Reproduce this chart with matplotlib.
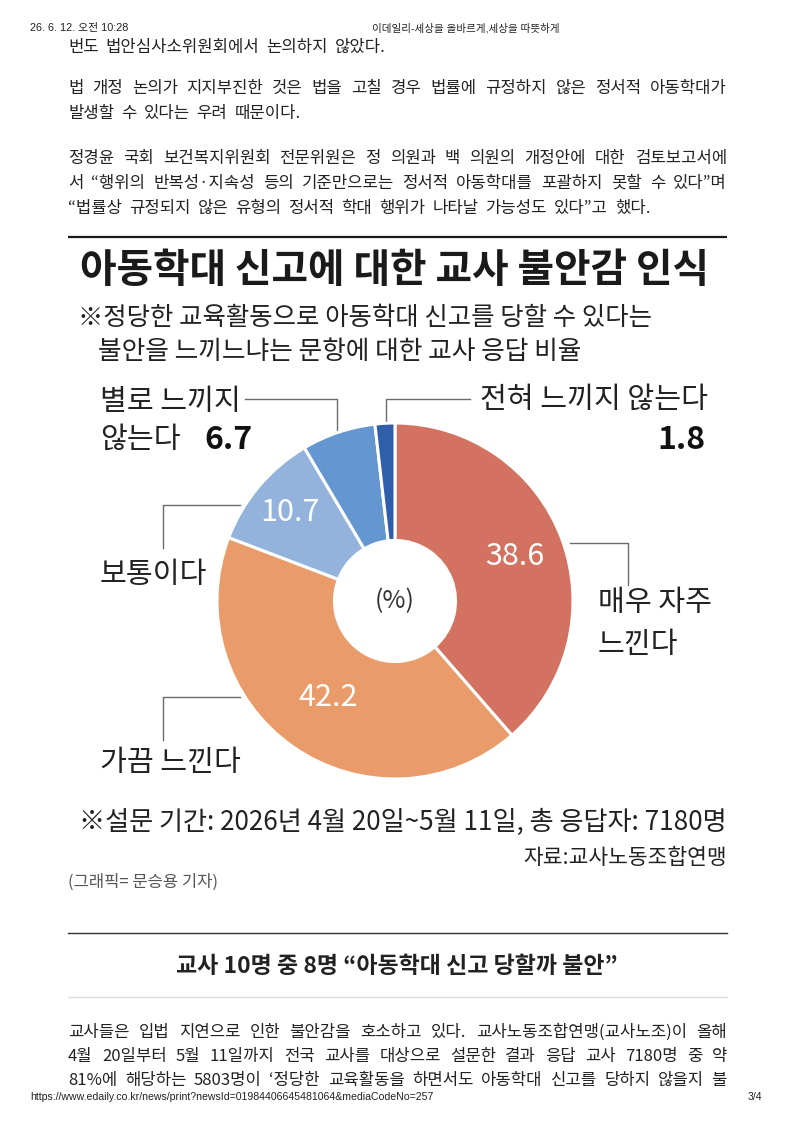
import numpy as np
import matplotlib
matplotlib.use("Agg")
import matplotlib.pyplot as plt

plt.rcParams['font.family'] = ['Noto Sans CJK KR', 'DejaVu Sans']

# ---------------- data ----------------
categories = ['매우 자주 느낀다', '가끔 느낀다', '보통이다', '별로 느끼지 않는다', '전혀 느끼지 않는다']
values = [38.6, 42.2, 10.7, 6.7, 1.8]
colors = ['#D47261', '#EA9B6A', '#93B3DC', '#6496D0', '#2F5FAB']
value_labels = ['38.6', '42.2', '10.7', '6.7', '1.8']

title = '아동학대 신고에 대한 교사 불안감 인식'
subtitle1 = '※정당한 교육활동으로 아동학대 신고를 당할 수 있다는'
subtitle2 = '불안을 느끼느냐는 문항에 대한 교사 응답 비율'
note = '※설문 기간: 2026년 4월 20일~5월 11일, 총 응답자: 7180명'
source = '자료:교사노동조합연맹'
credit = '(그래픽= 문승용 기자)'

header_left = '26. 6. 12. 오전 10:28'
header_center = '이데일리-세상을 올바르게,세상을 따뜻하게'
footer_left = 'https://www.edaily.co.kr/news/print?newsId=01984406645481064&mediaCodeNo=257'
footer_right = '3/4'

para_top = [
    ['번도 법안심사소위원회에서 논의하지 않았다.'],
    ['법 개정 논의가 지지부진한 것은 법을 고칠 경우 법률에 규정하지 않은 정서적 아동학대가',
     '발생할 수 있다는 우려 때문이다.'],
    ['정경윤 국회 보건복지위원회 전문위원은 정 의원과 백 의원의 개정안에 대한 검토보고서에',
     '서 “행위의 반복성·지속성 등의 기준만으로는 정서적 아동학대를 포괄하지 못할 수 있다”며',
     '“법률상 규정되지 않은 유형의 정서적 학대 행위가 나타날 가능성도 있다”고 했다.'],
]
heading = '교사 10명 중 8명 “아동학대 신고 당할까 불안”'
para_bottom = [
    '교사들은 입법 지연으로 인한 불안감을 호소하고 있다. 교사노동조합연맹(교사노조)이 올해',
    '4월 20일부터 5월 11일까지 전국 교사를 대상으로 설문한 결과 응답 교사 7180명 중 약',
    '81%에 해당하는 5803명이 ‘정당한 교육활동을 하면서도 아동학대 신고를 당하지 않을지 불',
]

# ---------------- figure ----------------
W, H = 793, 1122
fig = plt.figure(figsize=(W / 100, H / 100), dpi=100)
fig.patch.set_facecolor('white')
ov = fig.add_axes([0, 0, 1, 1])
ov.set_xlim(0, W)
ov.set_ylim(H, 0)
ov.axis('off')
renderer = fig.canvas.get_renderer()

TXT = '#222222'
L, R = 68, 727


def width_of(t):
    return t.get_window_extent(renderer).width


def fit(text, x, y, target_w, size, ha='left', **kw):
    t = ov.text(x, y, text, fontsize=size, ha=ha, va='center', **kw)
    w = width_of(t)
    t.set_fontsize(size * target_w / w)
    return t


def justify(line, y, size, x0=L, x1=R, color=TXT):
    words = line.split(' ')
    ts = [ov.text(0, y, w, fontsize=size, ha='left', va='center', color=color) for w in words]
    ws = [width_of(t) for t in ts]
    gap = (x1 - x0 - sum(ws)) / max(len(words) - 1, 1)
    x = x0
    for t, w in zip(ts, ws):
        t.set_x(x)
        x += w + gap


def plain(line, y, size, x0=L, color=TXT, space=0.42):
    # left-aligned line with word spacing similar to the web font
    words = line.split(' ')
    ts = [ov.text(0, y, w, fontsize=size, ha='left', va='center', color=color) for w in words]
    gap = size * 100 / 72 * space
    x = x0
    for t in ts:
        t.set_x(x)
        x += width_of(t) + gap


# header / footer
hdr = ['Liberation Sans', 'Noto Sans CJK KR']
ov.text(30, 28, header_left, fontsize=7.8, family=hdr, color='#222', va='center')
ov.text(466, 28, header_center, fontsize=7.6, family=hdr, color='#222', va='center', ha='center')
ov.text(30, 1097, footer_left, fontsize=7.6, family=hdr, color='#222', va='center')
ov.text(762, 1097, footer_right, fontsize=7.6, family=hdr, color='#222', va='center', ha='right')

# top paragraphs
BODY = 12.0
ys_top = [[47], [88, 113], [158, 183, 208]]
for lines, ys in zip(para_top, ys_top):
    for i, (ln, y) in enumerate(zip(lines, ys)):
        if i < len(lines) - 1:
            justify(ln, y, BODY)
        else:
            plain(ln, y, BODY)

# chart header
ov.plot([L, R], [237, 237], color='#1a1a1a', lw=1.6, solid_capstyle='butt')
fit(title, 80, 270, 630, 27, color='#1a1a1a', fontweight='bold')
fit(subtitle1, 78, 318, 574, 17, color='#222')
fit(subtitle2, 98, 352, 485, 17, color='#222')

# ---------------- donut ----------------
cx, cy, rad = 395, 601, 178
axp = fig.add_axes([(cx - rad) / W, 1 - (cy + rad) / H, 2 * rad / W, 2 * rad / H])
wedges, _ = axp.pie(values, colors=colors, startangle=90, counterclock=False,
                    wedgeprops=dict(width=0.66, edgecolor='white', linewidth=2.2))
axp.set_xlim(-1, 1)
axp.set_ylim(-1, 1)
axp.set_aspect('equal')
axp.axis('off')
axp.text(0, 0, '(%)', ha='center', va='center', fontsize=18, color='#333')

# inside value labels for the three biggest slices
inner_r = {0: 0.72, 1: 0.66, 2: 0.77}
for i, w in enumerate(wedges):
    if i in inner_r:
        mid = np.deg2rad((w.theta1 + w.theta2) / 2)
        r = inner_r[i]
        axp.text(r * np.cos(mid), r * np.sin(mid), value_labels[i], ha='center', va='center',
                 fontsize=22, color='white')

# outside labels and leader lines
LAB = 21
lc = '#6b6b6b'
ov.text(100, 402, '별로 느끼지', fontsize=LAB, color=TXT, va='center')
ov.text(100, 440, '않는다', fontsize=LAB, color=TXT, va='center')
ov.text(204, 440, value_labels[3], fontsize=23, color='#111', va='center', fontweight='bold')
ov.plot([245, 337, 337], [399, 399, 438], color=lc, lw=1)

ov.text(708, 400, '전혀 느끼지 않는다', fontsize=LAB, color=TXT, va='center', ha='right')
ov.text(706, 440, value_labels[4], fontsize=23, color='#111', va='center', ha='right', fontweight='bold')
ov.plot([386, 386, 470], [423, 399, 399], color=lc, lw=1)

ov.text(100, 575, '보통이다', fontsize=LAB, color=TXT, va='center')
ov.plot([240, 163, 163], [505, 505, 548], color=lc, lw=1)

ov.text(100, 763, '가끔 느낀다', fontsize=LAB, color=TXT, va='center')
ov.plot([240, 163, 163], [697, 697, 740], color=lc, lw=1)

ov.text(598, 603, '매우 자주', fontsize=LAB, color=TXT, va='center')
ov.text(598, 645, '느낀다', fontsize=LAB, color=TXT, va='center')
ov.plot([570, 628, 628], [543, 543, 585], color=lc, lw=1)

# notes
fit(note, R, 822, 649, 19, ha='right', color='#222')
fit(source, R, 858, 203, 19, ha='right', color='#222')
fit(credit, L, 882, 150, 10.5, color='#555')

# heading block
ov.plot([L, R], [933, 933], color='#333', lw=1)
fit(heading, 397, 966, 442, 16, ha='center', color='#222', fontweight='bold')
ov.plot([L, R], [997, 997], color='#dddddd', lw=1)
for ln, y in zip(para_bottom, [1032, 1056, 1080]):
    justify(ln, y, BODY)

fig.savefig('out.png', dpi=100, facecolor='white')
